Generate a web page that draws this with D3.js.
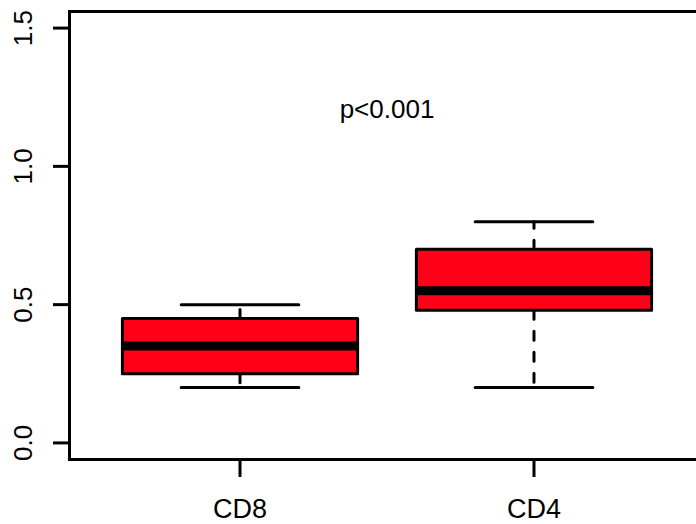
<!DOCTYPE html>
<html>
<head>
<meta charset="utf-8">
<script src="https://cdn.jsdelivr.net/npm/d3@7"></script>
<style>
  body { margin: 0; background: #fff; }
  svg { display: block; font-family: "Liberation Sans", Arial, Helvetica, sans-serif; }
</style>
</head>
<body>
<svg width="696" height="524"></svg>
<script>
// groups and their five-number summaries
const groups = ['CD8', 'CD4'];
const whiskerLow = [0.20, 0.20];
const boxLow = [0.25, 0.48];
const medians = [0.35, 0.55];
const boxHigh = [0.45, 0.70];
const whiskerHigh = [0.50, 0.80];
const yTicks = [0, 0.5, 1.0, 1.5];
const note = { x: 1.5, y: 1.2, text: 'p<0.001' };

const svg = d3.select('svg');

// R style: index positions 1..n, 4% padding on both axes
const x = d3.scaleLinear().domain([0.42, 2.58]).range([69.5, 704.5]);
const y = d3.scaleLinear().domain([-0.06, 1.56]).range([459.5, 11.5]);
const boxW = x(1.4) - x(1);

const data = groups.map((g, i) => ({
  name: g, pos: i + 1,
  lo: whiskerLow[i], q1: boxLow[i], med: medians[i], q3: boxHigh[i], hi: whiskerHigh[i]
}));

const boxes = svg.append('g').selectAll('g').data(data).join('g');

// whiskers (dashed)
boxes.append('line')
  .attr('x1', d => x(d.pos)).attr('x2', d => x(d.pos))
  .attr('y1', d => y(d.q1)).attr('y2', d => y(d.lo))
  .attr('stroke', '#000').attr('stroke-width', 3)
  .attr('stroke-dasharray', '9,12').attr('stroke-linecap', 'round');
boxes.append('line')
  .attr('x1', d => x(d.pos)).attr('x2', d => x(d.pos))
  .attr('y1', d => y(d.q3)).attr('y2', d => y(d.hi))
  .attr('stroke', '#000').attr('stroke-width', 3)
  .attr('stroke-dasharray', '9,12').attr('stroke-linecap', 'round');

// whisker caps
['lo', 'hi'].forEach(k => {
  boxes.append('line')
    .attr('x1', d => x(d.pos) - boxW / 2).attr('x2', d => x(d.pos) + boxW / 2)
    .attr('y1', d => y(d[k])).attr('y2', d => y(d[k]))
    .attr('stroke', '#000').attr('stroke-width', 3).attr('stroke-linecap', 'round');
});

// box
boxes.append('rect')
  .attr('x', d => x(d.pos) - boxW)
  .attr('y', d => y(d.q3))
  .attr('width', boxW * 2)
  .attr('height', d => y(d.q1) - y(d.q3))
  .attr('fill', '#ff0019')
  .attr('stroke', '#000').attr('stroke-width', 3).attr('stroke-linejoin', 'round');

// median
boxes.append('line')
  .attr('x1', d => x(d.pos) - boxW).attr('x2', d => x(d.pos) + boxW)
  .attr('y1', d => y(d.med)).attr('y2', d => y(d.med))
  .attr('stroke', '#000').attr('stroke-width', 9);

// plot frame
svg.append('rect')
  .attr('x', x.range()[0]).attr('y', y.range()[1])
  .attr('width', x.range()[1] - x.range()[0])
  .attr('height', y.range()[0] - y.range()[1])
  .attr('fill', 'none').attr('stroke', '#000').attr('stroke-width', 3);

// y axis ticks
const yAxis = svg.append('g');
yAxis.selectAll('line').data(yTicks).join('line')
  .attr('x1', 53).attr('x2', 70)
  .attr('y1', d => y(d)).attr('y2', d => y(d))
  .attr('stroke', '#000').attr('stroke-width', 3);
yAxis.selectAll('text').data(yTicks).join('text')
  .attr('transform', d => `translate(32,${y(d)}) rotate(-90)`)
  .attr('text-anchor', 'middle')
  .attr('font-size', 26)
  .text(d => d.toFixed(1));

// x axis ticks
const xAxis = svg.append('g');
xAxis.selectAll('line').data(data).join('line')
  .attr('x1', d => x(d.pos)).attr('x2', d => x(d.pos))
  .attr('y1', 460).attr('y2', 477)
  .attr('stroke', '#000').attr('stroke-width', 3);
xAxis.selectAll('text').data(data).join('text')
  .attr('x', d => x(d.pos)).attr('y', 518)
  .attr('text-anchor', 'middle')
  .attr('font-size', 27)
  .text(d => d.name);

// annotation
svg.append('text')
  .attr('x', x(note.x)).attr('y', y(note.y))
  .attr('text-anchor', 'middle')
  .attr('dominant-baseline', 'middle')
  .attr('font-size', 26)
  .text(note.text);
</script>
</body>
</html>
